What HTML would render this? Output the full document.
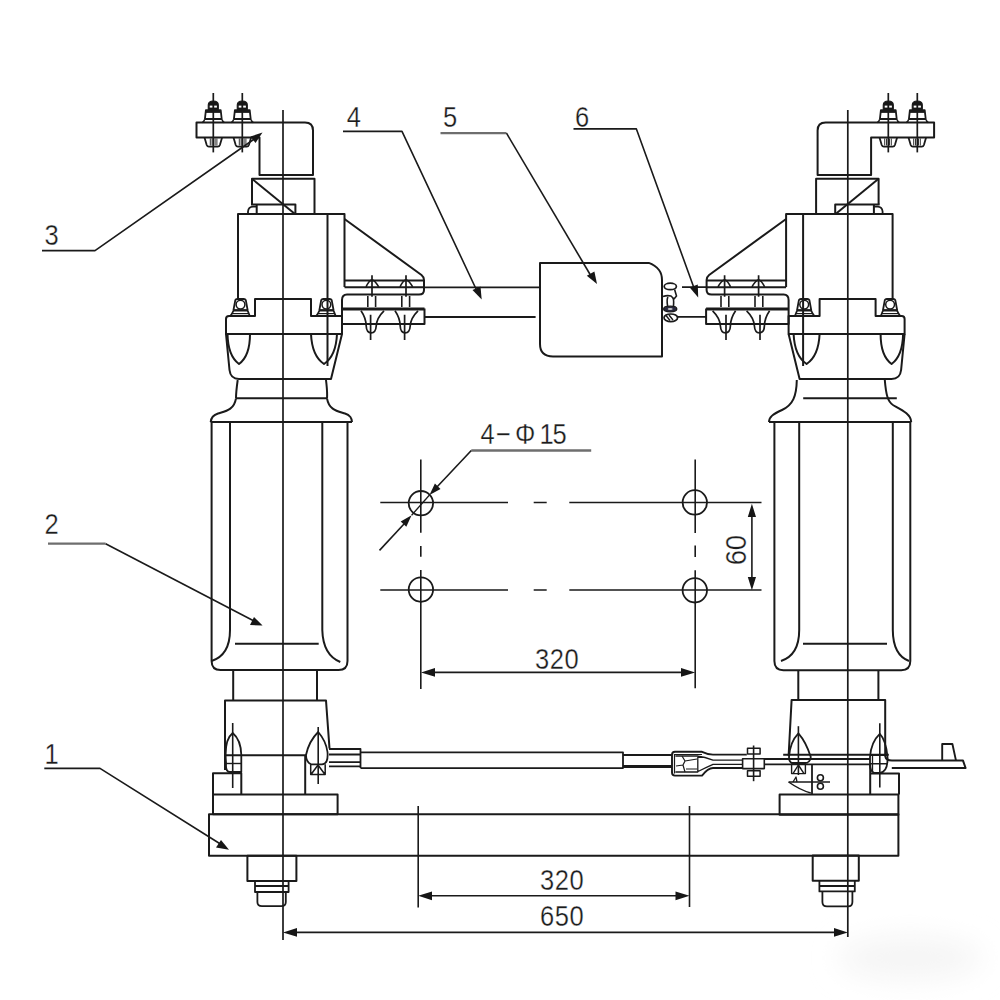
<!DOCTYPE html>
<html><head><meta charset="utf-8">
<style>
html,body{margin:0;padding:0;background:#fff;width:1000px;height:1000px;overflow:hidden}
svg{display:block}
text{font-family:"Liberation Sans",sans-serif;fill:#1c1c1c;stroke:#fff;stroke-width:0.3px}
</style></head>
<body>
<svg width="1000" height="1000" viewBox="0 0 1000 1000">
<defs>
<filter id="blur" x="-50%" y="-50%" width="200%" height="200%"><feGaussianBlur stdDeviation="14"/></filter>
<g id="tbolt">
  <path d="M0,93 V152.4" stroke-width="1.7"/>
  <path d="M-5,109.5 V105 Q-5,101 0,101 Q5,101 5,105 V109.5 Z" fill="#161616" stroke-width="1.2"/>
  <rect x="-3.6" y="105.6" width="2.7" height="2" fill="#fff" stroke="none"/>
  <rect x="0.9" y="105.6" width="2.7" height="2" fill="#fff" stroke="none"/>
  <path d="M-8.4,119 L-7.4,110.2 H7.4 L8.4,119 Z" stroke-width="1.8"/>
  <path d="M-7.4,111.6 H7.4" stroke-width="2.6"/>
  <path d="M-11,122.4 Q-9,121.6 -8.8,119.5 M8.8,119.5 Q9,121.6 11,122.4" stroke-width="1.6"/>
  <path d="M-8.8,137.5 L-6.6,145 Q-6,146.6 -4.4,146.6 H4.4 Q6,146.6 6.6,145 L8.8,137.5" stroke-width="1.8"/>
  <path d="M-3,138.5 V145.5 M-1.2,138.5 V145.5 M1.8,138.5 V145.5 M3.6,138.5 V145.5" stroke-width="0.9"/>
</g>
<g id="bbolt">
  <path d="M0,275.2 V296.8 M-1.4,314.8 V340" stroke-width="1.7"/>
  <path d="M-6,286.9 Q-3,280.5 0,279.7 Q3,280.5 6.7,286.9" stroke-width="1.6"/>
  <path d="M-4.2,296 V307 M3.6,296 V307" stroke-width="1.6"/>
  <path d="M-11,310.8 Q-6,318 -5.8,326 Q-5.5,332.8 -0.8,332.8 Q3.8,332.8 4.2,326 Q4.6,318 12,310.8" stroke-width="1.7"/>
</g>
<g id="cap">
  <path d="M-10,316 Q-8,313.5 -7,311 L-5,300.2 Q-4.5,299 -3,299 H3.5 Q5,299 5.5,300.2 L7.5,311 Q8.5,313.5 9.5,316" stroke-width="1.8"/>
  <circle cx="0.2" cy="304.6" r="4.4" stroke-width="1.5"/>
  <path d="M-6.8,310.3 H7.3" stroke-width="2.4"/>
  <path d="M-8.5,313.6 H8.5" stroke-width="1.2"/>
</g>
<g id="top">
  <!-- L bracket -->
  <path d="M196.5,122.5 H305 Q313,122.5 313,130.5 V175 H259.5 V137.5 H196.5 Z"/>
  <use href="#tbolt" x="213.3"/>
  <use href="#tbolt" x="242.3"/>
  <!-- rect below -->
  <path d="M252,204.6 V178.8 H314.5 V214"/>
  <path d="M252,178.8 L295,214"/>
  <path d="M251,204.6 H295.4 V214 M256.7,204.6 V214"/>
  <path d="M248,214 V211.5 Q248.5,206.8 253,206.6 H256.7" stroke-width="1.8"/>
  <!-- upper body -->
  <path d="M238,299 V214 H344.5 V287"/>
  <path d="M327.5,214 V366"/>
  <!-- triangle bracket -->
  <path d="M344.5,219 L421.5,275 Q424,277 424,280 V290 Q424,294.5 419,294.5 H347 Q342,294.5 342,300 V324 H424.5 V308.5"/>
  <path d="M344.5,280.5 H424"/>
  <path d="M344.5,287.3 H424"/>
  <path d="M342,309 H424.5" stroke-width="3.2"/>
  <use href="#bbolt" x="372"/>
  <use href="#bbolt" x="406"/>
  <!-- collar -->
  <path d="M226,334 V319 Q226,316 229,316 H255 V299 H311 V316 H342 V334 Z"/>
  <use href="#cap" x="240.3"/>
  <use href="#cap" x="326.2"/>
  <!-- lower body -->
  <path d="M226,334 L229.5,370 Q230.5,379 239,379 H331 L342,334"/>
  <path d="M227.5,334 Q228,356 239,364 Q250,356 250,334"/>
  <path d="M311,334 Q312,356 324,364 Q336,356 337,334"/>
</g>
</defs>

<ellipse cx="910" cy="958" rx="72" ry="22" fill="#f5f5f5" filter="url(#blur)"/>
<g fill="none" stroke="#1a1a1a" stroke-width="2" stroke-linejoin="round" stroke-linecap="butt">
<!-- center lines -->
<path d="M283,110 V940" stroke-width="1.7"/>
<path d="M847.8,110 V937" stroke-width="1.7"/>

<use href="#top"/>
<use href="#top" transform="translate(1130.6,0) scale(-1,1)"/>

<!-- rods between bracket and box -->
<path d="M424,287.3 H540 M424.5,317 H535.6" stroke-width="1.8"/>
<path d="M682,287.1 H706 M676.8,316.9 H706" stroke-width="1.8"/>

<!-- box 5 -->
<path d="M540,262.9 H648.8 Q655,265 659,270 Q662,274 662,280 V356.4 H553 Q540,356.4 540,344 Z"/>
<!-- coupler 6 -->
<ellipse cx="670.3" cy="286.4" rx="6.1" ry="3.2" stroke-width="1.7"/>
<path d="M674.6,289.6 L676.5,296 L674,299 M663,296.5 Q667,295 671,296 Q673,298 674,299" stroke-width="1.6"/>
<path d="M667.6,306 Q666.5,299 668,297 M673.5,306 Q674,300 673,298" stroke-width="1.6"/>
<ellipse cx="670.2" cy="309" rx="6.6" ry="2.8" fill="#2a2a40" stroke-width="1.3"/>
<ellipse cx="670.2" cy="309" rx="2.5" ry="0.9" fill="#ccc" stroke="none"/>
<ellipse cx="670.8" cy="317.8" rx="6.8" ry="3.8" stroke-width="1.7"/>
<path d="M666,315.5 L670,320.5 M669,315 L673,320" stroke-width="1.4"/>
<!-- LEFT insulator -->
<path d="M237.7,380 Q236,392 236,398.3 M326,380 Q327.5,392 327,398.3"/>
<path d="M236,398.3 H327"/>
<path d="M236,398.3 C234,410 226,411 218,413.5 C213,415 211,419 210.7,422"/>
<path d="M327,398.3 C329,410 337,411 345,413.5 C350,415 352,419 352,422"/>
<path d="M210.7,422 H352"/>
<path d="M211.6,422 V661 Q211.6,670 220.6,670 H338.5 Q347.5,670 347.5,661 V422"/>
<path d="M230,422 V630 Q230,655 211.6,661"/>
<path d="M322.3,422 V630 Q323,655 340.3,662"/>
<path d="M235,643.7 H318.7"/>
<path d="M233.2,670 V700.4 M317,670 V700.4"/>
<!-- left base block -->
<path d="M225,770 V700.5 H326 L329.5,748.5"/>
<path d="M225,755.2 H306"/>
<path d="M305.2,755.2 V794.4"/>
<path d="M213,794.4 V773.2 H241.3 V794.4"/>
<rect x="213" y="794.4" width="124.6" height="19.8"/>
<!-- base bolts left -->
<path d="M232.7,723 V788" stroke-width="1.6"/>
<path d="M226,762 Q224,740 232.7,733 Q241,740 241.3,755 V772 H230 Q226,772 226,766 Z" stroke-width="1.8"/>
<path d="M226,763.5 H241.3" stroke-width="1.4"/>
<path d="M318.2,727 V784" stroke-width="1.6"/>
<path d="M306,755 Q309,741 318.2,732 Q326,741 327.5,752 Q328.5,764 322,764.3 H311 Q306,762 306,755 Z" stroke-width="1.8"/>
<path d="M310.7,764.3 V774.5 H325.2 V764.3 M311,774.5 L318,765 L325,774.5" stroke-width="1.5"/>
<!-- beam -->
<rect x="209" y="814.2" width="689.4" height="41.6"/>
<!-- left nut -->
<rect x="247.4" y="855.8" width="49" height="25.2"/>
<path d="M255,881 V892 H288.6 V881 M255,886 H288.6" stroke-width="1.8"/>
<path d="M257.4,892 V902 Q257.4,906.2 262,906.2 H281.4 Q285.8,906.2 285.8,902 V892" stroke-width="1.8"/>

<!-- connecting rod -->
<path d="M329,749 H360.5 V768.1 M329,754.5 H360.5 M329,762.2 H360.5 M329,766.4 H360.5" stroke-width="1.8"/>
<path d="M360.5,752.4 H623 V768.1 H360.5" stroke-width="1.8"/>
<path d="M623,755 H672" stroke-width="1.8"/>
<path d="M623,766.5 H672" stroke-width="3"/>
<path d="M746.8,754.6 H713 Q708,754.6 702,751.8 H675 Q672,751.8 672,755 V772.5 Q672,775.6 675,775.6 H702 Q708,768 713,768 H742.6" stroke-width="1.9"/>
<path d="M674.5,754 V773.5 M674.5,754.5 H702" stroke-width="1.2"/>
<path d="M675.4,756 H697.8 V772 H675.4 M697,756 Q705,757 713,760.2 H742.6 M697,772 Q705,768 713,764.4 H742.6" stroke-width="1.3"/>
<path d="M682,756 L685,761 L683,765 L676,766 M685,761 L697,759 M683,765 L685,772 M686,769 H697" stroke-width="1.2"/>
<path d="M742.6,758.8 H764.3 V768.6 H742.6 Z" stroke-width="1.6"/>
<path d="M753.6,745.5 V781.2" stroke-width="1.6"/>
<rect x="747.5" y="748.3" width="12.6" height="5.6" stroke-width="1.5"/>
<rect x="747.5" y="770.7" width="12.6" height="5.6" stroke-width="1.5"/>

<!-- RIGHT insulator -->
<path d="M803.2,398.2 H896.8"/>
<path d="M796.8,380 C796.5,396 793,405 782,410 C773,414 769,417 769,422"/>
<path d="M884.8,380 C886,395 888,402 893,405 C902,410 911,414 911.2,422"/>
<path d="M769,422 H911.2"/>
<path d="M774.4,422 V661 Q774.4,670.2 783.4,670.2 H901.3 Q910.3,670.2 910.3,661 V422"/>
<path d="M799.2,422 V630 Q799.2,655 781,661"/>
<path d="M892.8,422 V630 Q893,655 909,661"/>
<path d="M803,643.7 H887"/>
<path d="M798.3,670 V700 M878.4,670 V700"/>
<!-- right base -->
<path d="M788.6,756 L791.6,700 H885.2 V756 Q886,760.6 892,760.6 H963 L965.6,768 H891.8"/>
<path d="M783.2,754.8 H888.8"/>
<path d="M764,759 H870 M764,764.4 H870" stroke-width="1.8"/>
<path d="M942.2,760.6 V744 H952.4 L956,760.6" stroke-width="1.9"/>
<path d="M870.2,764 V794.4 M870.2,773.4 H899 V794.4"/>
<rect x="779.6" y="794.4" width="118.8" height="20.4"/>
<!-- right base bolts -->
<path d="M798.4,726.2 V775" stroke-width="1.6"/>
<path d="M789,757 Q790,742 798.4,733.4 Q806,742 810.8,757 Q810,763 805,763 H792 Q789,762 789,757 Z" stroke-width="1.8"/>
<path d="M791.6,764 H805.4 V773.6 H791.6 Z M793,773.6 L798.4,765 L804,773.6" stroke-width="1.4"/>
<path d="M812,764 V795" stroke-width="1.8"/>
<path d="M788.6,782 H830" stroke-width="1.5"/>
<path d="M788.6,782 Q800,790 810.8,793" stroke-width="1.5"/>
<path d="M793,782 L796,777 L797,782" stroke-width="1.3"/>
<circle cx="820.4" cy="777.8" r="3" stroke-width="1.6"/>
<circle cx="820.4" cy="786.2" r="3" stroke-width="1.6"/>
<path d="M879.8,723.2 V787.4" stroke-width="1.6"/>
<path d="M870,757 Q871,742 879.8,733.8 Q886,740 887.5,757 Q888,772 880,772.8 H874 Q870,771 870,765 Z" stroke-width="1.8"/>
<path d="M872.5,755.4 V772" stroke-width="1.3"/>
<path d="M870,755.4 H887.5 M870,763.8 H887.5" stroke-width="1.4"/>
<!-- right nut -->
<rect x="812.7" y="855.6" width="46.1" height="25.2"/>
<path d="M819.4,881 V891.4 H854.8 V881 M819.4,886 H854.8" stroke-width="1.8"/>
<path d="M822.4,891.4 V902 Q822.4,906.4 827,906.4 H848 Q852.4,906.4 852.4,902 V891.4" stroke-width="1.8"/>

<!-- holes -->
<circle cx="420.9" cy="503.2" r="12.2" stroke-width="1.8"/>
<circle cx="420.9" cy="589.6" r="12.2" stroke-width="1.8"/>
<circle cx="694.8" cy="502.4" r="12.2" stroke-width="1.8"/>
<circle cx="694.8" cy="590.3" r="12.2" stroke-width="1.8"/>
<path d="M380.3,502.5 H508 M533.7,502.5 H546.7 M569.3,502.5 H761.5" stroke-width="1.6"/>
<path d="M380.3,590 H508 M533.7,590 H546.7 M569.3,590 H761.5" stroke-width="1.6"/>
<path d="M420.8,459.4 V532.8 M420.8,546 V556.8 M420.8,570 V689" stroke-width="1.6"/>
<path d="M695.2,459.5 V533 M695.2,545.6 V557 M695.2,570.2 V688.3" stroke-width="1.6"/>
<!-- dim 60 -->
<path d="M751.9,512 V581" stroke-width="1.6"/>
<path d="M751.9,503.7 L747.8,517 H756 Z M751.9,590.3 L747.8,577 H756 Z" fill="#161616" stroke="none"/>
<!-- dim 320 top -->
<path d="M429,672.4 H686" stroke-width="1.6"/>
<path d="M421,672.4 L435,668 V676.8 Z M695.2,672.4 L681,668 V676.8 Z" fill="#161616" stroke="none"/>
<!-- 4-phi15 leader -->
<path d="M591.2,450.5 H471.3" stroke="#6e6e6e" stroke-width="2.3"/>
<path d="M471.3,450.5 L436,488" stroke-width="1.6"/>
<path d="M429.5,495 L434.9,483.6 L440.5,488.9 Z" fill="#161616" stroke="none"/>
<path d="M411.6,515.2 L429.5,495" stroke-width="1.3"/>
<path d="M379.5,550.4 L404,524" stroke-width="1.6"/>
<path d="M411.6,515.2 L406.3,526.7 L400.7,521.5 Z" fill="#161616" stroke="none"/>

<!-- bottom dims -->
<path d="M418.2,806 V907.4 M689.5,806 V907" stroke-width="1.6"/>
<path d="M426,895.8 H681" stroke-width="1.6"/>
<path d="M418.2,895.8 L432,891.4 V900.2 Z M689.5,895.8 L675.5,891.4 V900.2 Z" fill="#161616" stroke="none"/>
<path d="M291,932.4 H840" stroke-width="1.6"/>
<path d="M283,932.4 L297,928 V936.8 Z M847.8,932.4 L834,928 V936.8 Z" fill="#161616" stroke="none"/>

<!-- leaders -->
<path d="M42,250.6 H95 L255,138.5" stroke-width="1.6"/>
<path d="M262.5,132.5 L250.5,136.5 L255.5,143 Z" fill="#161616" stroke="none"/>
<path d="M48,543.7 H105.6" stroke="#6e6e6e" stroke-width="2.3"/>
<path d="M105.6,543.7 L254,621" stroke-width="1.6"/>
<path d="M262.6,625.5 L250,625 L254,617 Z" fill="#161616" stroke="none"/>
<path d="M44.3,768.4 H100 L222,845" stroke-width="1.6"/>
<path d="M229,849.8 L216,847.5 L221,840 Z" fill="#161616" stroke="none"/>
<path d="M343,131.4 H402 L477,291" stroke-width="1.6"/>
<path d="M481.7,299.5 L472.5,290 L480.5,286.5 Z" fill="#161616" stroke="none"/>
<path d="M440.5,133.2 H506.5" stroke="#6e6e6e" stroke-width="2.3"/>
<path d="M506.5,133.2 L591,276" stroke-width="1.6"/>
<path d="M597,284 L586.8,275.8 L594.4,271.4 Z" fill="#161616" stroke="none"/>
<path d="M573.5,128.9 H636.4 L694,288" stroke-width="1.6"/>
<path d="M698.2,297.5 L689.7,287.4 L697.8,284.6 Z" fill="#161616" stroke="none"/>
</g>

<!-- labels -->
<g font-size="29">
<text transform="translate(346.8,127) scale(0.88,1)">4</text>
<text transform="translate(443,127) scale(0.88,1)">5</text>
<text transform="translate(575,127) scale(0.88,1)">6</text>
<text transform="translate(44.5,244.5) scale(0.88,1)">3</text>
<text transform="translate(44.5,533.7) scale(0.88,1)">2</text>
<text transform="translate(44.5,764) scale(0.88,1)">1</text>
<text transform="translate(535.0,669) scale(0.88,1)">3</text>
<text transform="translate(549.8,669) scale(0.88,1)">2</text>
<text transform="translate(564.6,669) scale(0.88,1)">0</text>
<text transform="translate(540.0,890) scale(0.88,1)">3</text>
<text transform="translate(554.8,890) scale(0.88,1)">2</text>
<text transform="translate(569.6,890) scale(0.88,1)">0</text>
<text transform="translate(540.0,926) scale(0.88,1)">6</text>
<text transform="translate(554.8,926) scale(0.88,1)">5</text>
<text transform="translate(569.6,926) scale(0.88,1)">0</text>
<text transform="translate(480.5,443.5) scale(0.88,1)">4</text>
<text transform="translate(496,443.5) scale(0.88,1)">−</text>
<text transform="translate(515,443.5) scale(0.88,1)">Φ</text>
<text transform="translate(539.5,443.5) scale(0.88,1)">1</text>
<text transform="translate(552.5,443.5) scale(0.88,1)">5</text>
<text transform="translate(746,565.3) rotate(-90) scale(0.95,1)">6</text>
<text transform="translate(746,550.3) rotate(-90) scale(0.95,1)">0</text>
</g>
</svg>
</body></html>
